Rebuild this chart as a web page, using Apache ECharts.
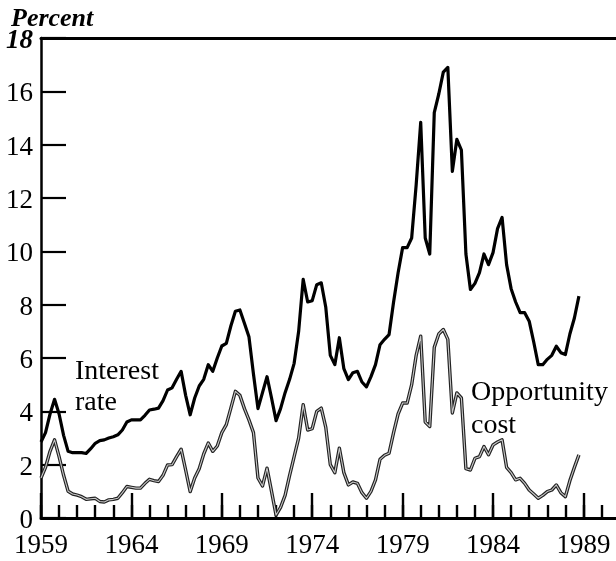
<!DOCTYPE html>
<html>
<head>
<meta charset="utf-8">
<script src="https://cdn.jsdelivr.net/npm/echarts@6/dist/echarts.min.js"></script>
<style>
	html, body { margin: 0; padding: 0; background: #fff; overflow: hidden; }
	/* wider than the window: the axis runs off the right edge like the print */
	#chart { width: 646px; height: 561px; }
</style>
</head>
<body>
<div id="chart"></div>
<script>
// -------------------------
// Interest rate vs opportunity cost, quarterly 1959-1988
// -------------------------

const firstYear = 1959;

// Quarterly values (percent)
const interestRate = [
	2.85, 3.2, 3.9, 4.45,  3.9, 3.1, 2.5, 2.45,  2.45, 2.45, 2.42, 2.6,
	2.8, 2.9, 2.93, 3.0,   3.05, 3.12, 3.3, 3.6,  3.68, 3.68, 3.68, 3.85,
	4.05, 4.08, 4.12, 4.4, 4.8, 4.88, 5.2, 5.5,   4.6, 3.87, 4.5, 4.95,
	5.2, 5.75, 5.5, 6.0,   6.45, 6.55, 7.2, 7.75, 7.8, 7.3, 6.8, 5.4,
	4.1, 4.7, 5.3, 4.5,    3.65, 4.1, 4.7, 5.2,   5.8, 7.0, 8.95, 8.1,
	8.15, 8.75, 8.82, 7.9, 6.1, 5.75, 6.76, 5.6,  5.19, 5.45, 5.5, 5.1,
	4.92, 5.3, 5.75, 6.5,  6.7, 6.88, 8.1, 9.2,   10.14, 10.14, 10.5, 12.5,
	14.84, 10.5, 9.9, 15.2, 15.9, 16.72, 16.9, 13.0, 14.2, 13.8, 9.9, 8.57,
	8.8, 9.2, 9.9, 9.5,    9.95, 10.85, 11.27, 9.5, 8.6, 8.1, 7.7, 7.7,
	7.38, 6.6, 5.75, 5.75, 5.95, 6.1, 6.44, 6.2,  6.13, 6.9, 7.5, 8.32
];

const opportunityCost = [
	1.5, 1.9, 2.5, 2.93,   2.3, 1.6, 1.0, 0.9,    0.86, 0.8, 0.7, 0.72,
	0.74, 0.62, 0.6, 0.68, 0.7, 0.74, 0.95, 1.18, 1.15, 1.12, 1.12, 1.3,
	1.45, 1.4, 1.37, 1.6,  1.99, 2.0, 2.3, 2.58,  1.8, 0.99, 1.5, 1.85,
	2.4, 2.81, 2.5, 2.7,   3.2, 3.5, 4.12, 4.75,  4.6, 4.1, 3.68, 3.2,
	1.5, 1.2, 1.87, 1.0,   0.11, 0.4, 0.85, 1.6,  2.3, 3.0, 4.25, 3.3,
	3.35, 4.0, 4.12, 3.4,  2.0, 1.7, 2.62, 1.7,   1.24, 1.35, 1.3, 0.95,
	0.74, 1.0, 1.43, 2.2,  2.35, 2.43, 3.2, 3.9,  4.31, 4.31, 5.0, 6.1,
	6.82, 3.6, 3.43, 6.4,  6.9, 7.07, 6.7, 3.94,  4.69, 4.5, 1.85, 1.8,
	2.24, 2.3, 2.68, 2.37, 2.74, 2.85, 2.93, 1.9, 1.7, 1.43, 1.49, 1.3,
	1.05, 0.9, 0.74, 0.85, 0.99, 1.05, 1.24, 0.95, 0.8, 1.4, 1.9, 2.37
];

// Axis settings
const yTicks = { min: 0, max: 18, interval: 2 };
const labelYears = 5;
const lastAxisYear = 1992.46;

// Fonts
const serif = '"Liberation Serif", "DejaVu Serif", serif';

// ----------------------
// Helpers
// ----------------------
function toPoints(values) {
	return values.map((v, i) => [firstYear + i / 4, v]);
}

// ----------------------
// Chart
// ----------------------
const chart = echarts.init(document.getElementById('chart'));

const xBase = {
	type: 'value',
	min: firstYear,
	max: lastAxisYear,
	splitLine: { show: false },
	axisLine: { show: false }
};

const option = {
	animation: false,
	backgroundColor: '#fff',
	title: {
		text: 'Percent',
		left: 6,
		top: 1,
		textStyle: { fontFamily: serif, fontSize: 26, fontWeight: 'bold', fontStyle: 'italic', color: '#000' }
	},
	grid: { left: 41, top: 38, right: 0, bottom: 43 },
	xAxis: [
		// major ticks + year labels
		Object.assign({}, xBase, {
			position: 'bottom',
			interval: labelYears,
			axisLine: { show: true, onZero: false, lineStyle: { color: '#000', width: 3 } },
			axisTick: { show: true, inside: true, length: 25, lineStyle: { color: '#000', width: 2.4 } },
			axisLabel: {
				margin: 14,
				fontFamily: serif,
				fontSize: 27,
				color: '#000',
				showMaxLabel: false,
				formatter: v => ((v - firstYear) % labelYears === 0 ? String(v) : '')
			}
		}),
		// yearly minor ticks
		Object.assign({}, xBase, {
			position: 'bottom',
			interval: 1,
			axisTick: { show: true, inside: true, length: 13, lineStyle: { color: '#000', width: 2.4 } },
			axisLabel: { show: false }
		}),
		// frame line on top
		Object.assign({}, xBase, {
			position: 'top',
			axisLine: { show: true, onZero: false, lineStyle: { color: '#000', width: 3 } },
			axisTick: { show: false },
			axisLabel: { show: false }
		})
	],
	yAxis: {
		type: 'value',
		min: yTicks.min,
		max: yTicks.max,
		interval: yTicks.interval,
		splitLine: { show: false },
		axisLine: { show: true, onZero: false, lineStyle: { color: '#000', width: 2.5 } },
		axisTick: { show: true, inside: true, length: 25, lineStyle: { color: '#000', width: 2.2 } },
		axisLabel: {
			margin: 8,
			padding: [6, 0, 0, 0],
			fontFamily: serif,
			fontSize: 27,
			color: '#000',
			formatter: v => (v === yTicks.max ? '{top|' + v + '}' : String(v)),
			rich: {
				top: { fontFamily: serif, fontSize: 27, fontWeight: 'bold', fontStyle: 'italic', color: '#000' }
			}
		}
	},
	series: [
		{
			name: 'Interest rate',
			type: 'line',
			showSymbol: false,
			data: toPoints(interestRate),
			lineStyle: { color: '#000', width: 3.2, join: 'round' },
			z: 3
		},
		{
			name: 'Opportunity cost',
			type: 'line',
			showSymbol: false,
			data: toPoints(opportunityCost),
			lineStyle: { color: '#222', width: 3.4, join: 'round' },
			z: 2
		},
		{
			// light core gives the hollow look of the printed line
			name: 'Opportunity cost core',
			type: 'line',
			showSymbol: false,
			data: toPoints(opportunityCost),
			lineStyle: { color: '#c8c8c8', width: 1.1, join: 'round' },
			z: 2
		}
	],
	graphic: [
		{
			type: 'text',
			left: 75,
			top: 356,
			style: { text: 'Interest\nrate', font: '28px ' + serif, fill: '#000', lineHeight: 31 }
		},
		{
			type: 'text',
			left: 471,
			top: 376,
			style: { text: 'Opportunity\ncost', font: '28px ' + serif, fill: '#000', lineHeight: 33 }
		}
	]
};

chart.setOption(option);
</script>
</body>
</html>
